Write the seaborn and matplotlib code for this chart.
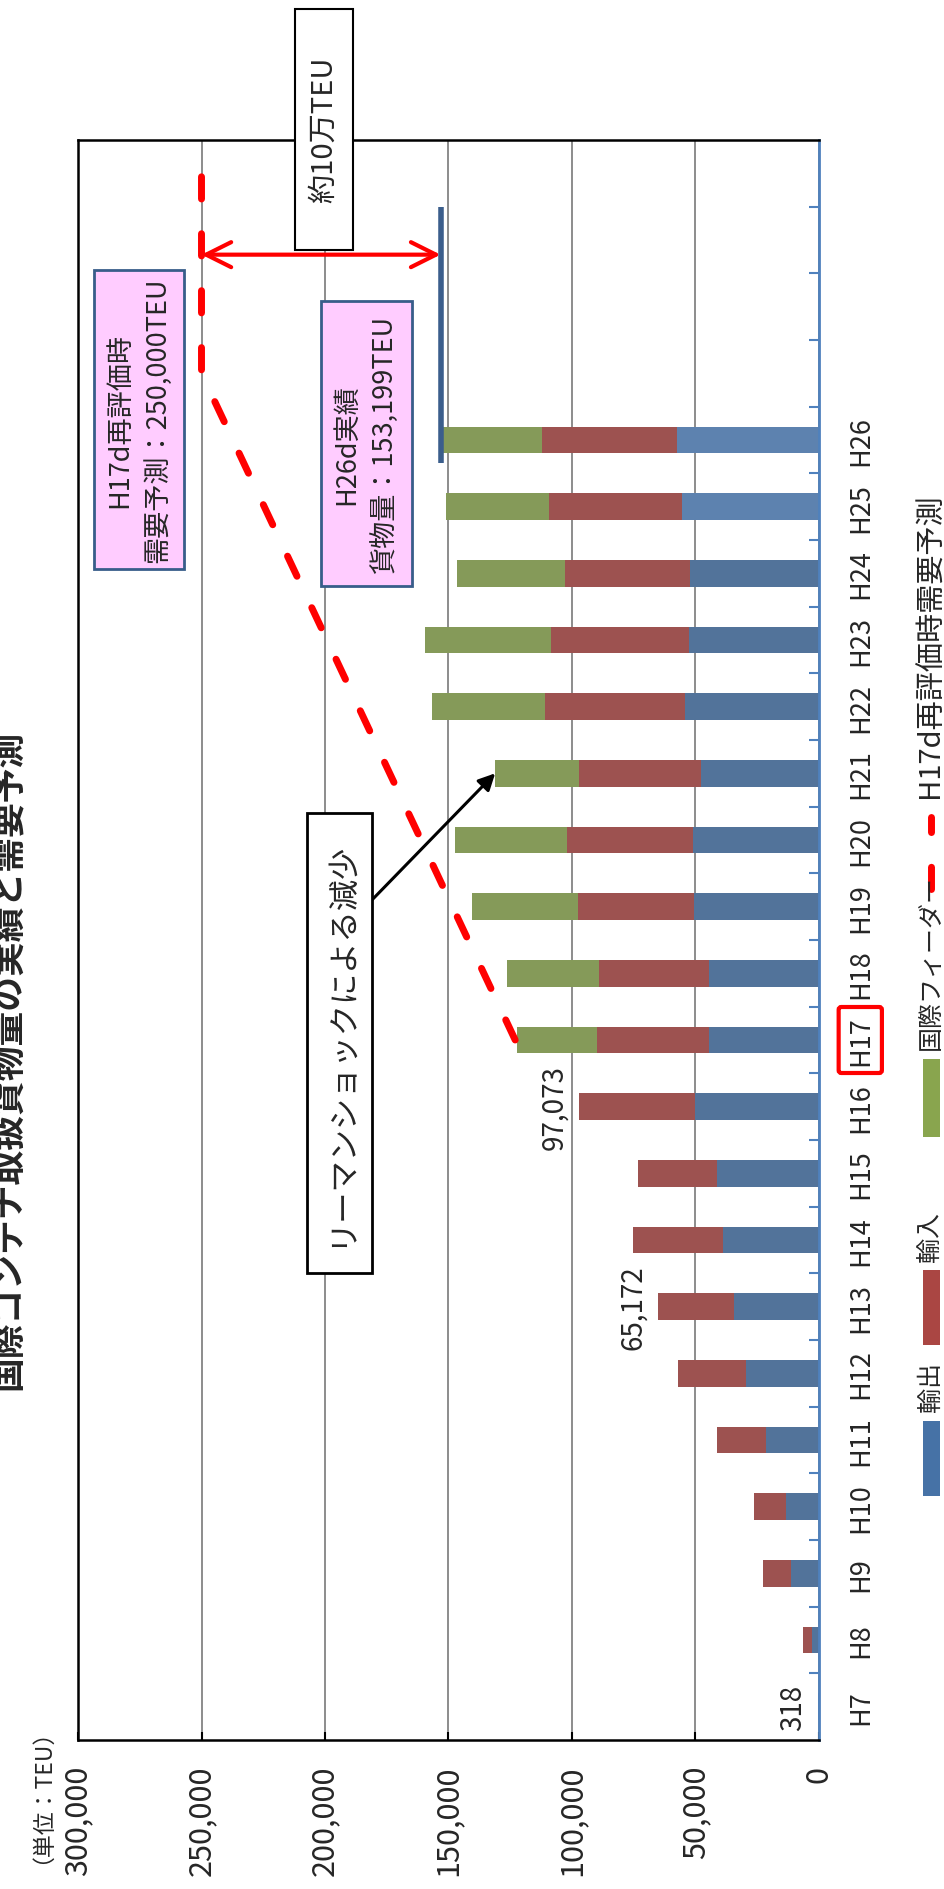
import numpy as np
import pandas as pd
import matplotlib
matplotlib.use("Agg")
import matplotlib.pyplot as plt
from matplotlib.patches import Rectangle
from matplotlib.lines import Line2D
import seaborn as sns

# -------------- datos (TEU por año)

years = ["H7", "H8", "H9", "H10", "H11", "H12", "H13", "H14", "H15", "H16",
         "H17", "H18", "H19", "H20", "H21", "H22", "H23", "H24", "H25", "H26"]
extra_years = ["H27", "H28", "H29", "H30"]
exports = [318, 2950, 11300, 13500, 21600, 29700, 34300, 38700, 41400, 50200,
           44400, 44700, 50500, 50900, 47900, 54100, 52800, 52400, 55600, 57400]
imports = [0, 3400, 11250, 12700, 19800, 27300, 30872, 36700, 31700, 46873,
           45600, 44400, 47000, 51300, 49100, 56800, 55500, 50500, 53700, 54900]
feeder = [0, 0, 0, 0, 0, 0, 0, 0, 0, 0,
          32100, 37100, 43000, 45100, 34100, 45900, 51300, 43600, 41600, 40899]
series_names = ["輸出", "輸入", "国際フィーダー"]

forecast_name = "H17d再評価時需要予測"
forecast_years = ["H17", "H27", "H30"]
forecast_values = [123000, 250000, 250000]

label_years = ["H7", "H13", "H16"]

titulo = "国際コンテナ取扱貨物量の実績と需要予測"

# -------------- estilo

sns.set_theme(style="white")
plt.rcParams["font.family"] = ["Noto Sans CJK JP", "DejaVu Sans"]

azul = "#4672A6"
azul_claro = "#4F81BD"
rojo = "#AA4643"
verde = "#89A54E"

df = pd.DataFrame({"年": years, "輸出": exports, "輸入": imports, "国際フィーダー": feeder})
df["輸出+輸入"] = df["輸出"] + df["輸入"]
df["合計"] = df["輸出+輸入"] + df["国際フィーダー"]
totales = dict(zip(df["年"], df["合計"]))

order = years + extra_years
pos = {y: i for i, y in enumerate(order)}

W, H = 945, 1890
fig = plt.figure(figsize=(W / 100, H / 100), dpi=100)
ax = fig.add_axes([78 / W, (H - 1741) / H, (819 - 78) / W, 1600 / H])

# barras apiladas: se dibuja el total y encima los parciales
sns.barplot(data=df, x="合計", y="年", order=order, orient="y", color=verde,
            width=0.4, errorbar=None, linewidth=0, ax=ax)
sns.barplot(data=df, x="輸出+輸入", y="年", order=order, orient="y", color=rojo,
            width=0.4, errorbar=None, linewidth=0, ax=ax)
paleta_azul = {y: (azul_claro if y in ["H25", "H26"] else azul) for y in years}
sns.barplot(data=df, x="輸出", y="年", hue="年", palette=paleta_azul, legend=False,
            order=order, orient="y", width=0.4, errorbar=None, linewidth=0, ax=ax)

ax.set_ylim(-0.5, len(order) - 0.5)
ax.set_xlim(300000, 0)
ax.set_xlabel("")
ax.set_ylabel("")

# ejes y rejilla
ax.set_axisbelow(True)
ax.xaxis.grid(True, color="#8c8c8c", linewidth=1.4)
ax.yaxis.grid(False)

xt = np.arange(0, 300001, 50000)
ax.set_xticks(xt)
ax.set_xticklabels([f"{v:,}" for v in xt], rotation=90, va="top", ha="center", fontsize=22)
ax.tick_params(axis="x", direction="in", length=6, width=1.5, color="black", pad=18, bottom=True)

ax.yaxis.tick_right()
ax.set_yticks(range(len(years)))
ax.set_yticklabels(years, rotation=90, va="center", ha="left", fontsize=19.5)
ax.set_yticks(np.arange(0.5, len(order) - 1, 1), minor=True)
ax.tick_params(axis="y", which="major", length=0, pad=20)
ax.tick_params(axis="y", which="minor", direction="in", length=7, width=1.5,
               color=azul_claro, right=True)

for s in ["left", "top", "bottom"]:
    ax.spines[s].set_color("black")
    ax.spines[s].set_linewidth(1.8)
ax.spines["right"].set_color(azul_claro)
ax.spines["right"].set_linewidth(2)

for t in ax.get_yticklabels():
    if t.get_text() == "H17":
        t.set_bbox(dict(boxstyle="round,pad=0.3,rounding_size=0.1", fc="none", ec="red", lw=3))

# etiquetas de totales
for y in label_years:
    ax.annotate(f"{totales[y]:,}", xy=(totales[y], pos[y]), xytext=(-7, 0),
                textcoords="offset points", rotation=90, ha="right", va="center", fontsize=20)

# linea de pronostico
ax.plot(forecast_values, [pos[y] for y in forecast_years], color="red", lw=5,
        dashes=(3.2, 5), dash_capstyle="round", solid_joinstyle="round", zorder=4)

# linea del resultado H26 y flecha de diferencia
ax.plot([totales["H26"]] * 2, [pos["H26"] - 0.35, pos["H29"] + 0.5], color="#3B5E8C",
        lw=4, solid_capstyle="butt", zorder=4)
ax.annotate("", xy=(forecast_values[-1], pos["H28"] + 0.78), xytext=(totales["H26"], pos["H28"] + 0.78),
            arrowprops=dict(arrowstyle="<->,head_length=0.9,head_width=0.45", color="red",
                            lw=3, mutation_scale=20, shrinkA=0, shrinkB=0), zorder=5)

# flecha de la caida por la crisis
ax.annotate("", xy=(totales["H21"], pos["H21"]), xytext=(181000, pos["H20"] - 0.9),
            arrowprops=dict(arrowstyle="-|>", color="black", lw=2.2, mutation_scale=25,
                            shrinkA=0, shrinkB=0), zorder=5)


def caja(x0, y0, x1, y1, fc, ec, lw):
    fig.add_artist(Rectangle((x0 / W, 1 - y1 / H), (x1 - x0) / W, (y1 - y0) / H,
                             transform=fig.transFigure, facecolor=fc, edgecolor=ec,
                             linewidth=lw, zorder=5))


def texto(cx, cy, s, size, **kw):
    fig.text(cx / W, 1 - cy / H, s, rotation=90, ha=kw.pop("ha", "center"),
             va=kw.pop("va", "center"), fontsize=size, zorder=6, **kw)


caja(295, 10, 353, 251, "white", "black", 1.5)
texto(324, 130, "約10万TEU", 21)

caja(94, 271, 184, 570, "#FFCCFF", "#385D8A", 2)
texto(139, 420, "H17d再評価時\n需要予測：250,000TEU", 19.5, linespacing=1.45, multialignment="center")

caja(321, 302, 412, 587, "#FFCCFF", "#385D8A", 2)
texto(366, 445, "H26d実績\n貨物量：153,199TEU", 19.5, linespacing=1.45, multialignment="center")

caja(307, 814, 372, 1274, "white", "black", 2)
texto(340, 1044, "リーマンショックによる減少", 22.5)

# titulo (cortado en el borde) y unidad
texto(8, 1390, titulo, 25, va="bottom", fontweight="bold")
texto(30, 1785, "（単位：TEU）", 16.5)

# leyenda
colores = [azul, rojo, verde]
patch_y = [(1422, 1497), (1271, 1346), (1060, 1138)]
text_y = [1412, 1262, 1050]
for nombre, c, (p0, p1), ty in zip(series_names, colores, patch_y, text_y):
    caja(923, p0, 940, p1, c, "none", 0)
    texto(931, ty, nombre, 18, va="bottom")
fig.add_artist(Line2D([931 / W] * 2, [1 - 890 / H, 1 - 818 / H], transform=fig.transFigure,
                      color="red", lw=5, dashes=(3.2, 5), dash_capstyle="round", zorder=5))
texto(931, 798, forecast_name, 21, va="bottom")

fig.savefig("out.png", dpi=100)
